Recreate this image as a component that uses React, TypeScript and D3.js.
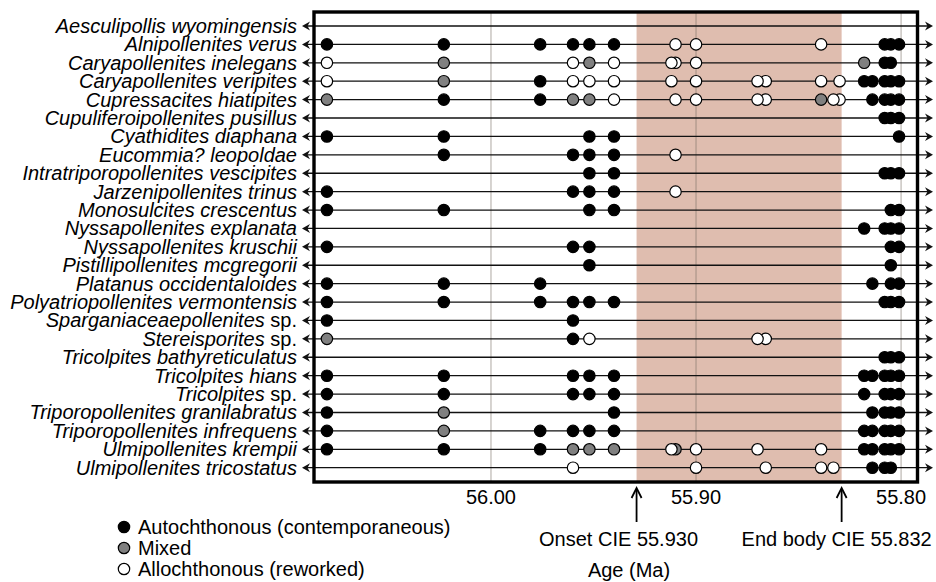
import { useEffect, useRef } from "react";
import * as d3 from "d3";

// taxa, top to bottom
const species = [
  "Aesculipollis wyomingensis",
  "Alnipollenites verus",
  "Caryapollenites inelegans",
  "Caryapollenites veripites",
  "Cupressacites hiatipites",
  "Cupuliferoipollenites pusillus",
  "Cyathidites diaphana",
  "Eucommia? leopoldae",
  "Intratriporopollenites vescipites",
  "Jarzenipollenites trinus",
  "Monosulcites crescentus",
  "Nyssapollenites explanata",
  "Nyssapollenites kruschii",
  "Pistillipollenites mcgregorii",
  "Platanus occidentaloides",
  "Polyatriopollenites vermontensis",
  "Sparganiaceaepollenites sp.",
  "Stereisporites sp.",
  "Tricolpites bathyreticulatus",
  "Tricolpites hians",
  "Tricolpites sp.",
  "Triporopollenites granilabratus",
  "Triporopollenites infrequens",
  "Ulmipollenites krempii",
  "Ulmipollenites tricostatus",
];

// sample ages (Ma), oldest first
const sampleAges = [
  56.08, 56.023, 55.976, 55.96, 55.952, 55.94, 55.912, 55.91, 55.9, 55.87,
  55.866, 55.839, 55.833, 55.83, 55.818, 55.814, 55.808, 55.805, 55.801,
];

// one string per taxon, one char per sample
// a = autochthonous, m = mixed, r = reworked, . = absent
const records = [
  "...................",
  "aaaaaa.rr..r....aaa",
  "rm.rmrrrr.....m.aa.",
  "rmarrrr.rrrr.raaaaa",
  "maammr.rrrrmrr.aaaa",
  "................aaa",
  "aa..aa............a",
  ".a.aaa.r...........",
  "....aa..........aaa",
  "a..aaa.r...........",
  "aa..aa...........aa",
  "..............a.aaa",
  "a..aa............aa",
  "....a............a.",
  "aaa............a.aa",
  "aaaaaa..........aaa",
  "a..a...............",
  "m..ar....rr........",
  "................aaa",
  "aa.aaa........aaaaa",
  "aa.aaa........a.aaa",
  "am...a.........aaaa",
  "amaaaa........aaaaa",
  "aaammmrmrr.r..aaaaa",
  "...r....r.rrr..aaa.",
];

const tickAges = [56.0, 55.9, 55.8];
const tickLabels = ["56.00", "55.90", "55.80"];

const eventAges = [55.929, 55.829];
const eventLabels = ["Onset CIE 55.930", "End body CIE 55.832"];

const legendKeys = ["a", "m", "r"];
const legendLabels = [
  "Autochthonous (contemporaneous)",
  "Mixed",
  "Allochthonous (reworked)",
];

const fills: Record<string, string> = { a: "#000000", m: "#808080", r: "#ffffff" };

export default function App() {
  const svgRef = useRef<SVGSVGElement>(null);

  useEffect(() => {
    const width = 936;
    const height = 582;
    const box = { left: 314, right: 917.5, top: 12, bottom: 482 };
    const font = "'Liberation Sans', Arial, sans-serif";

    const svg = d3.select(svgRef.current).attr("width", width).attr("height", height);
    svg.selectAll("*").remove();

    const x = d3.scaleLinear().domain([56.0863, 55.792]).range([box.left, box.right]);
    const y = d3.scalePoint<string>().domain(species).range([26, 467.7]);

    // CIE body shading
    svg.append("rect")
      .attr("x", x(eventAges[0]))
      .attr("y", box.top)
      .attr("width", x(eventAges[1]) - x(eventAges[0]))
      .attr("height", box.bottom - box.top)
      .attr("fill", "#dfbdaf");

    // vertical grid
    svg.selectAll(".grid")
      .data(tickAges)
      .enter()
      .append("line")
      .attr("x1", d => x(d))
      .attr("x2", d => x(d))
      .attr("y1", box.top)
      .attr("y2", box.bottom)
      .attr("stroke", "rgba(120,110,100,0.4)")
      .attr("stroke-width", 1.5);

    // taxon rows
    const rows = svg.selectAll(".row")
      .data(species)
      .enter()
      .append("g")
      .attr("transform", d => `translate(0,${y(d)})`);

    rows.append("line")
      .attr("x1", 305)
      .attr("x2", 929)
      .attr("stroke", "#111")
      .attr("stroke-width", 1.3);

    rows.append("path")
      .attr("d", "M302,0 L310,-4.5 L307.5,0 L310,4.5 Z")
      .attr("fill", "#111");
    rows.append("path")
      .attr("d", "M933,0 L925,-4.5 L927.5,0 L925,4.5 Z")
      .attr("fill", "#111");

    const labels = rows.append("text")
      .attr("x", 297)
      .attr("y", 7)
      .attr("text-anchor", "end")
      .attr("font-family", font)
      .attr("font-size", 20)
      .attr("fill", "#000");
    labels.append("tspan")
      .attr("font-style", "italic")
      .text(d => (d.endsWith(" sp.") ? d.slice(0, -3) : d));
    labels.filter(d => d.endsWith(" sp."))
      .append("tspan")
      .text("sp.");

    // occurrences, younger drawn first so older sits on top
    rows.each(function (name, i) {
      const pts = records[i]
        .split("")
        .map((k, j) => ({ k, age: sampleAges[j] }))
        .filter(p => p.k !== ".")
        .sort((a, b) => a.age - b.age);
      d3.select(this)
        .selectAll("circle")
        .data(pts)
        .enter()
        .append("circle")
        .attr("cx", d => x(d.age))
        .attr("cy", 0)
        .attr("r", 5.7)
        .attr("fill", d => fills[d.k])
        .attr("stroke", "#000")
        .attr("stroke-width", 1.2);
    });

    // frame
    svg.append("rect")
      .attr("x", box.left)
      .attr("y", box.top)
      .attr("width", box.right - box.left)
      .attr("height", box.bottom - box.top)
      .attr("fill", "none")
      .attr("stroke", "#000")
      .attr("stroke-width", 3.4);

    // tick labels
    svg.selectAll(".tick")
      .data(tickAges)
      .enter()
      .append("text")
      .attr("x", d => x(d))
      .attr("y", 504)
      .attr("text-anchor", "middle")
      .attr("font-family", font)
      .attr("font-size", 20)
      .text((d, i) => tickLabels[i]);

    // CIE arrows
    const offsets = [-18, -5];
    eventAges.forEach((age, i) => {
      const ax = x(age);
      svg.append("line")
        .attr("x1", ax).attr("x2", ax)
        .attr("y1", 522).attr("y2", 489)
        .attr("stroke", "#000").attr("stroke-width", 1.8);
      svg.append("polyline")
        .attr("points", `${ax - 5},${498} ${ax},${488} ${ax + 5},${498}`)
        .attr("fill", "none")
        .attr("stroke", "#000")
        .attr("stroke-width", 1.8);
      svg.append("text")
        .attr("x", ax + offsets[i])
        .attr("y", 546)
        .attr("text-anchor", "middle")
        .attr("font-family", font)
        .attr("font-size", 20)
        .text(eventLabels[i]);
    });

    svg.append("text")
      .attr("x", 629)
      .attr("y", 577)
      .attr("text-anchor", "middle")
      .attr("font-family", font)
      .attr("font-size", 20)
      .text("Age (Ma)");

    // legend
    const legend = svg.selectAll(".legend")
      .data(legendKeys)
      .enter()
      .append("g")
      .attr("transform", (d, i) => `translate(124,${527 + i * 21})`);
    legend.append("circle")
      .attr("r", 5.7)
      .attr("fill", d => fills[d])
      .attr("stroke", "#000")
      .attr("stroke-width", 1.2);
    legend.append("text")
      .attr("x", 14)
      .attr("y", 7)
      .attr("font-family", font)
      .attr("font-size", 20)
      .text((d, i) => legendLabels[i]);
  }, []);

  return (
    <div style={{ position: "absolute", left: 0, top: 0 }}>
      <svg ref={svgRef}></svg>
    </div>
  );
}
